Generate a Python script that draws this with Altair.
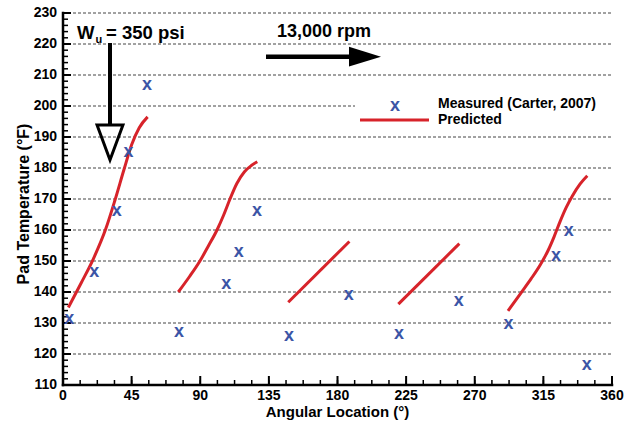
import altair as alt
import pandas as pd

# ---------------- data ----------------
meas_angle = [4.1, 20.5, 35.2, 42.9, 55.1, 76.1, 107.1, 115.2, 127.2, 148.2,
              187.3, 220.3, 259.5, 292.2, 323.3, 331.6, 343.4]
meas_temp = [131.2, 146.5, 166.2, 185.2, 206.8, 127.1, 142.6, 152.9, 166.1, 125.8,
             139.0, 126.5, 137.2, 129.7, 151.6, 159.7, 116.6]

seg1_angle = [3.5, 12.0, 20.0, 28.0, 34.0, 40.0, 45.0, 50.0, 55.5]
seg1_temp = [135.0, 143.0, 150.8, 160.3, 169.5, 179.5, 187.5, 193.0, 196.5]
seg2_angle = [75.6, 83.0, 89.8, 95.5, 101.0, 105.5, 109.5, 114.0, 119.0, 123.5, 127.4]
seg2_temp = [140.0, 145.0, 150.0, 155.0, 160.0, 165.0, 170.0, 175.0, 178.8, 180.8, 182.0]
seg3_angle = [147.7, 187.8]
seg3_temp = [136.7, 156.3]
seg4_angle = [219.9, 259.9]
seg4_temp = [136.1, 155.6]
seg5_angle = [291.8, 300.0, 307.0, 313.0, 318.0, 322.0, 326.0, 330.0, 334.0, 339.0, 343.8]
seg5_temp = [133.9, 139.5, 144.3, 148.8, 153.3, 157.8, 162.8, 167.3, 171.0, 174.8, 177.5]

x_major = [0, 45, 90, 135, 180, 225, 270, 315, 360]
x_minor = [i * 11.25 for i in range(33)]
y_major = list(range(110, 231, 10))
y_minor = list(range(110, 231, 2))
y_grid = list(range(120, 231, 10))

BLUE = "#3b55a6"
RED = "#d7232a"
FONT = "Liberation Sans"

meas_df = pd.DataFrame({"angle": meas_angle, "temp": meas_temp})
rows = []
for k, (a, t) in enumerate([(seg1_angle, seg1_temp), (seg2_angle, seg2_temp),
                             (seg3_angle, seg3_temp), (seg4_angle, seg4_temp),
                             (seg5_angle, seg5_temp)]):
    for ai, ti in zip(a, t):
        rows.append({"angle": ai, "temp": ti, "seg": k})
pred_df = pd.DataFrame(rows)
one = pd.DataFrame({"d": [0]})

W, H = 549, 372
xs = alt.Scale(domain=[0, 360], nice=False, zero=False)
ys = alt.Scale(domain=[110, 230], nice=False, zero=False)

# ---------------- axes, drawn from the tick-value lists through the scales ----------------
grid = alt.Chart(pd.DataFrame({"v": y_grid})).mark_rule(
    color="#444444", strokeWidth=1, strokeDash=[3, 2]).encode(
    y=alt.Y("v:Q", scale=ys, axis=None), x=alt.value(0), x2=alt.value(W))

x_domain = alt.Chart(one).mark_rule(color="black", strokeWidth=2.5, strokeCap="square").encode(
    x=alt.value(0), x2=alt.value(W), y=alt.value(H))
y_domain = alt.Chart(one).mark_rule(color="black", strokeWidth=2.5, strokeCap="square").encode(
    x=alt.value(0), y=alt.value(0), y2=alt.value(H))


def xticks(vals, length, width):
    return alt.Chart(pd.DataFrame({"v": vals})).mark_rule(color="black", strokeWidth=width).encode(
        x=alt.X("v:Q", scale=xs, axis=None), y=alt.value(H - length), y2=alt.value(H))


def yticks(vals, length, width):
    return alt.Chart(pd.DataFrame({"v": vals})).mark_rule(color="black", strokeWidth=width).encode(
        y=alt.Y("v:Q", scale=ys, axis=None), x=alt.value(0), x2=alt.value(length))


tick_layers = [xticks(x_minor, 5, 1.5), xticks(x_major, 9, 2),
               yticks(y_minor, 5, 1.5), yticks(y_major, 8, 2)]

x_labels = alt.Chart(pd.DataFrame({"v": x_major, "lab": [str(v) for v in x_major]})).mark_text(
    align="center", baseline="top", fontSize=14, fontWeight="bold", font=FONT,
    color="black").encode(x=alt.X("v:Q", scale=xs, axis=None), y=alt.value(H + 4), text="lab:N")
y_labels = alt.Chart(pd.DataFrame({"v": y_major, "lab": [str(v) for v in y_major]})).mark_text(
    align="right", baseline="middle", fontSize=14, fontWeight="bold", font=FONT,
    color="black").encode(y=alt.Y("v:Q", scale=ys, axis=None), x=alt.value(-6), text="lab:N")

x_title = alt.Chart(one).mark_text(text="Angular Location (°)", fontSize=15, fontWeight="bold",
                                   font=FONT, align="center", baseline="alphabetic",
                                   color="black").encode(x=alt.value(W / 2), y=alt.value(H + 32))
y_title = alt.Chart(one).mark_text(text="Pad Temperature (°F)", fontSize=16, fontWeight="bold",
                                   font=FONT, align="center", baseline="alphabetic", angle=270,
                                   color="black").encode(x=alt.value(-34.5), y=alt.value(191))

# ---------------- data marks ----------------
lines = alt.Chart(pred_df).mark_line(color=RED, strokeWidth=3, interpolate="monotone").encode(
    x=alt.X("angle:Q", scale=xs, axis=None),
    y=alt.Y("temp:Q", scale=ys, axis=None),
    detail="seg:N",
)
points = alt.Chart(meas_df).mark_text(text="x", fontSize=18, fontWeight="bold", font=FONT,
                                      color=BLUE, baseline="middle", align="center").encode(
    x=alt.X("angle:Q", scale=xs, axis=None),
    y=alt.Y("temp:Q", scale=ys, axis=None),
)

# ---------------- legend ----------------
leg_bg = alt.Chart(one).mark_rect(color="white").encode(
    x=alt.value(292), x2=alt.value(549), y=alt.value(68), y2=alt.value(117))
leg_x = alt.Chart(one).mark_text(text="x", fontSize=18, fontWeight="bold", font=FONT,
                                 color=BLUE, baseline="middle", align="center").encode(
    x=alt.value(332), y=alt.value(92.7))
leg_line = alt.Chart(one).mark_rule(color=RED, strokeWidth=3).encode(
    x=alt.value(297), x2=alt.value(366), y=alt.value(107))
leg_t1 = alt.Chart(one).mark_text(text="Measured (Carter, 2007)", fontSize=14, fontWeight="bold",
                                  font=FONT, align="left", baseline="alphabetic",
                                  color="black").encode(x=alt.value(375), y=alt.value(94.7))
leg_t2 = alt.Chart(one).mark_text(text="Predicted", fontSize=14, fontWeight="bold",
                                  font=FONT, align="left", baseline="alphabetic",
                                  color="black").encode(x=alt.value(375), y=alt.value(111.3))

# ---------------- annotations ----------------
t_w = alt.Chart(one).mark_text(text="W", fontSize=18.5, fontWeight="bold", font=FONT, align="left",
                               baseline="alphabetic", color="black").encode(
    x=alt.value(14), y=alt.value(25.5))
t_u = alt.Chart(one).mark_text(text="u", fontSize=11, fontWeight="bold", font=FONT, align="left",
                               baseline="alphabetic", color="black").encode(
    x=alt.value(32.5), y=alt.value(30))
t_psi = alt.Chart(one).mark_text(text="= 350 psi", fontSize=18.5, fontWeight="bold", font=FONT,
                                 align="left", baseline="alphabetic", color="black").encode(
    x=alt.value(43), y=alt.value(25.5))
t_rpm = alt.Chart(one).mark_text(text="13,000 rpm", fontSize=18, fontWeight="bold", font=FONT,
                                 align="left", baseline="alphabetic", color="black").encode(
    x=alt.value(214), y=alt.value(23.7))

down_shaft = alt.Chart(one).mark_rule(color="black", strokeWidth=4).encode(
    x=alt.value(47), y=alt.value(30), y2=alt.value(112))
down_head = alt.Chart(one).mark_point(shape="M-0.74,-1L0.74,-1L0,1Z", filled=False,
                                      color="black", strokeWidth=3, opacity=1,
                                      size=1225).encode(x=alt.value(47), y=alt.value(129.5))
right_shaft = alt.Chart(one).mark_rule(color="black", strokeWidth=4.5).encode(
    x=alt.value(203), x2=alt.value(290), y=alt.value(43.7))
right_head = alt.Chart(one).mark_point(shape="M-1,-0.62L1,0L-1,0.62Z", filled=True,
                                       color="black", opacity=1, strokeWidth=0,
                                       size=1024).encode(x=alt.value(302), y=alt.value(43.7))

chart = alt.layer(
    grid, leg_bg, x_domain, y_domain, *tick_layers, x_labels, y_labels, x_title, y_title,
    lines, points,
    leg_x, leg_line, leg_t1, leg_t2,
    t_w, t_u, t_psi, t_rpm, down_shaft, down_head, right_shaft, right_head,
).properties(
    width=W, height=H,
    autosize=alt.AutoSizeParams(type="none"),
    padding={"left": 63, "top": 13, "right": 25, "bottom": 41},
    background="white",
).configure_view(stroke=None)

chart.save("out.html", embed_options={"renderer": "svg", "actions": False})
